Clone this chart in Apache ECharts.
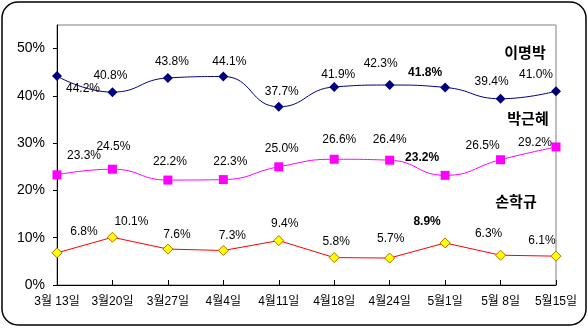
<!DOCTYPE html>
<html><head><meta charset="utf-8">
<script src="https://cdn.jsdelivr.net/npm/echarts@6/dist/echarts.min.js"></script>
<style>html,body{margin:0;padding:0;background:#fff}#c{width:588px;height:328px}</style>
</head><body><div id="c"></div>
<script>
const categories = ['3월 13일','3월20일','3월27일','4월4일','4월11일','4월18일','4월24일','5월1일','5월 8일','5월15일'];
const leeValues = [44.2, 40.8, 43.8, 44.1, 37.7, 41.9, 42.3, 41.8, 39.4, 41.0];
const parkValues = [23.3, 24.5, 22.2, 22.3, 25.0, 26.6, 26.4, 23.2, 26.5, 29.2];
const sohnValues = [6.8, 10.1, 7.6, 7.3, 9.4, 5.8, 5.7, 8.9, 6.3, 6.1];
const seriesNames = ['이명박','박근혜','손학규'];
const yTicks = [0, 10, 20, 30, 40, 50];
const boldIndex = 7;

// label offsets (layout only)
const leeOff = [[26,13],[-2,-16],[4,-16],[6,-15],[3,-15],[4,-12],[-9,-21],[-20,-15],[-9,-17],[-20,-16]];
const parkOff = [[27,-19],[1,-22],[2,-18],[7,-18],[3,-18],[5,-20],[0,-21],[-23,-18],[-18,-14],[-21,-4]];
const sohnOff = [[27,-21],[19,-16],[9,-14],[9,-15],[6,-17],[2,-16],[1,-19],[-18,-21],[-12,-22],[-14,-15]];

const FONT = '"Liberation Sans", "Noto Sans CJK KR", sans-serif';

function mk(values, offs) {
  return values.map((v, i) => ({
    value: v,
    label: {
      show: true, position: 'inside', offset: offs[i],
      formatter: v.toFixed(1) + '%',
      fontWeight: i === boldIndex ? 'bold' : 'normal',
      color: '#000', fontSize: 12, fontFamily: FONT
    }
  }));
}

const chart = echarts.init(document.getElementById('c'), null, {renderer: 'canvas'});
chart.setOption({
  animation: false,
  backgroundColor: '#fff',
  grid: {left: 57, right: 32, top: 25, bottom: 43, show: true, borderColor: '#808080', borderWidth: 1},
  xAxis: {
    type: 'category', data: categories, boundaryGap: false,
    axisLine: {lineStyle: {color: '#000', width: 1}},
    axisTick: {inside: true, length: 5, interval: 0, lineStyle: {color: '#000'}},
    axisLabel: {interval: 0, hideOverlap: false, color: '#000', fontSize: 12, fontFamily: FONT, margin: 11},
    splitLine: {show: false}
  },
  yAxis: {
    type: 'value', min: 0, max: 55, interval: 10,
    axisLine: {show: true, lineStyle: {color: '#000', width: 1}},
    axisTick: {show: true, length: 4, customValues: yTicks, lineStyle: {color: '#000'}},
    axisLabel: {customValues: yTicks, formatter: v => v + '%', color: '#000', fontSize: 14, fontFamily: FONT, margin: 12},
    splitLine: {show: false}
  },
  series: [
    {
      name: seriesNames[0], type: 'line', data: mk(leeValues, leeOff), smooth: 0.5,
      symbol: 'diamond', symbolSize: 10,
      lineStyle: {color: '#000080', width: 1},
      itemStyle: {color: '#000080'}, z: 3
    },
    {
      name: seriesNames[1], type: 'line', data: mk(parkValues, parkOff), smooth: 0.5,
      symbol: 'rect', symbolSize: 9,
      lineStyle: {color: '#FF00FF', width: 1},
      itemStyle: {color: '#FF00FF'}, z: 3
    },
    {
      name: seriesNames[2], type: 'line', data: mk(sohnValues, sohnOff), smooth: false,
      symbol: 'diamond', symbolSize: 10,
      lineStyle: {color: '#FF0000', width: 1},
      itemStyle: {color: '#FFFF00', borderColor: '#B07000', borderWidth: 1}, z: 3
    }
  ],
  graphic: [
    {type: 'rect', shape: {x: 2, y: 2, width: 584, height: 323, r: 16}, style: {fill: 'none', stroke: '#000', lineWidth: 1.5}, silent: true},
    {type: 'text', x: 525, y: 52, style: {text: seriesNames[0], font: 'bold 15px "Noto Sans CJK KR"', fill: '#000', align: 'center', verticalAlign: 'middle'}},
    {type: 'text', x: 528, y: 118, style: {text: seriesNames[1], font: 'bold 15px "Noto Sans CJK KR"', fill: '#000', align: 'center', verticalAlign: 'middle'}},
    {type: 'text', x: 516, y: 201, style: {text: seriesNames[2], font: 'bold 15px "Noto Sans CJK KR"', fill: '#000', align: 'center', verticalAlign: 'middle'}}
  ]
});
</script></body></html>
